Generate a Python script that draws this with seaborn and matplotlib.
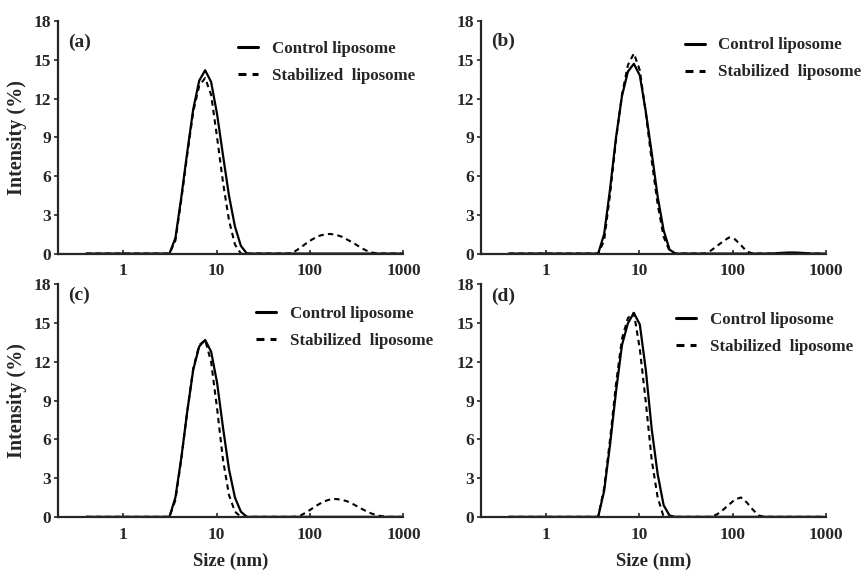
import numpy as np
import pandas as pd
import seaborn as sns
import matplotlib.pyplot as plt

# DLS size classes (nm)
size_nm = [0.4, 0.4632, 0.5365, 0.6213, 0.7195, 0.8332, 0.9649, 1.117, 1.294, 1.499,
           1.736, 2.010, 2.328, 2.696, 3.122, 3.615, 4.187, 4.849, 5.615, 6.503,
           7.531, 8.721, 10.10, 11.70, 13.54, 15.69, 18.17, 21.04, 24.36, 28.21,
           32.67, 37.84, 43.82, 50.75, 58.77, 68.06, 78.82, 91.28, 105.7, 122.4,
           141.8, 164.2, 190.1, 220.2, 255.0, 295.3, 342.0, 396.1, 458.7, 531.2,
           615.1, 712.4, 825.0, 955.4]

Z14 = [0] * 14  # empty classes below 3 nm

a_control = Z14 + [0, 1.2, 4.4, 7.9, 11.2, 13.4, 14.2, 13.3, 10.8, 7.6, 4.5, 2.1, 0.6, 0, 0,
                   0, 0, 0, 0, 0, 0, 0, 0, 0, 0, 0, 0, 0, 0, 0, 0, 0, 0, 0, 0, 0, 0, 0, 0, 0]
a_stable = Z14 + [0, 1.0, 4.2, 7.7, 11.0, 13.0, 13.6, 12.3, 9.0, 5.5, 2.6, 0.7, 0, 0, 0,
                  0, 0, 0, 0, 0, 0, 0.15, 0.45, 0.8, 1.1, 1.35, 1.48, 1.52, 1.45, 1.3,
                  1.05, 0.8, 0.5, 0.25, 0.08, 0, 0, 0, 0, 0]

b_control = Z14 + [0, 0, 1.5, 5.0, 9.0, 12.2, 14.1, 14.7, 13.8, 11.0, 7.8, 4.4, 1.8, 0.3, 0,
                   0, 0, 0, 0, 0, 0, 0, 0, 0, 0, 0, 0, 0, 0, 0, 0, 0.03, 0.06, 0.08, 0.08,
                   0.06, 0.03, 0, 0, 0]
b_stable = Z14 + [0, 0, 1.0, 4.6, 8.8, 12.3, 14.6, 15.5, 14.2, 10.9, 7.2, 3.8, 1.3, 0.2, 0,
                  0, 0, 0, 0, 0, 0.25, 0.6, 0.95, 1.25, 1.1, 0.65, 0.15, 0, 0, 0,
                  0, 0, 0, 0, 0, 0, 0, 0, 0, 0]

c_control = Z14 + [0, 1.5, 4.6, 8.2, 11.4, 13.2, 13.7, 12.8, 10.4, 6.9, 3.7, 1.5, 0.4, 0, 0,
                   0, 0, 0, 0, 0, 0, 0, 0, 0, 0, 0, 0, 0, 0, 0, 0, 0, 0, 0, 0, 0, 0, 0, 0, 0]
c_stable = Z14 + [0, 1.3, 4.5, 8.2, 11.5, 13.3, 13.7, 12.0, 8.4, 4.4, 1.7, 0.4, 0, 0, 0,
                  0, 0, 0, 0, 0, 0, 0, 0.1, 0.35, 0.65, 0.95, 1.2, 1.35, 1.38, 1.32,
                  1.18, 0.95, 0.7, 0.45, 0.25, 0.1, 0.03, 0, 0, 0]

d_control = Z14 + [0, 0, 2.0, 5.6, 9.7, 13.3, 15.0, 15.8, 14.9, 11.4, 6.8, 3.3, 0.9, 0.1, 0,
                   0, 0, 0, 0, 0, 0, 0, 0, 0, 0, 0, 0, 0, 0, 0, 0, 0, 0, 0, 0, 0, 0, 0, 0, 0]
d_stable = Z14 + [0, 0, 2.2, 6.0, 10.3, 13.8, 15.4, 15.8, 13.0, 8.9, 4.4, 1.5, 0, 0, 0,
                  0, 0, 0, 0, 0, 0, 0.2, 0.55, 0.95, 1.35, 1.5, 1.1, 0.55, 0.1, 0,
                  0, 0, 0, 0, 0, 0, 0, 0, 0, 0]

panels = ['(a)', '(b)', '(c)', '(d)']
controls = [a_control, b_control, c_control, d_control]
stables = [a_stable, b_stable, c_stable, d_stable]
labels = ['Control liposome', 'Stabilized  liposome']
x_ticks = [1, 10, 100, 1000]
y_ticks = [0, 3, 6, 9, 12, 15, 18]

sns.set_style('ticks')
plt.rcParams['font.family'] = ['Liberation Serif', 'DejaVu Serif']
plt.rcParams['font.weight'] = 'bold'

fig, axes = plt.subplots(2, 2, figsize=(8.66, 5.73), dpi=100)
fig.subplots_adjust(left=0.067, right=0.954, bottom=0.098, top=0.963,
                    wspace=0.224, hspace=0.133)

leg_pos = [(0.52, 0.915), (0.59, 0.93), (0.573, 0.906), (0.565, 0.88)]
tag_y = [0.91, 0.915, 0.955, 0.95]

for i, ax in enumerate(axes.flat):
    df = pd.DataFrame({'size': size_nm, 'control': controls[i], 'stable': stables[i]})
    sns.lineplot(data=df, x='size', y='control', ax=ax, color='black', lw=1.6,
                 label=labels[0], errorbar=None)
    sns.lineplot(data=df, x='size', y='stable', ax=ax, color='black', lw=1.5,
                 linestyle=(0, (2.6, 2.0)), label=labels[1], errorbar=None)

    ax.set_xscale('log')
    ax.set_xlim(0.2, 1000)
    ax.set_ylim(0, 18)
    ax.set_xticks(x_ticks)
    ax.set_xticklabels([str(t) for t in x_ticks])
    ax.xaxis.set_minor_locator(plt.NullLocator())
    ax.set_yticks(y_ticks)
    ax.tick_params(axis='x', direction='in', length=3, width=1.2, pad=7, labelsize=12.5)
    ax.tick_params(axis='y', direction='out', length=3, width=1.2, pad=2, labelsize=12.5)
    for lab in ax.get_xticklabels() + ax.get_yticklabels():
        lab.set_fontweight('bold')
    sns.despine(ax=ax)
    for s in ['left', 'bottom']:
        ax.spines[s].set_linewidth(1.6)

    ax.set_xlabel('Size (nm)' if i >= 2 else '', fontsize=13.5, fontweight='bold', labelpad=7)
    ax.set_ylabel('Intensity (%)' if i % 2 == 0 else '', fontsize=14.5, fontweight='bold', labelpad=5)

    ax.text(0.03, tag_y[i], panels[i], transform=ax.transAxes, fontsize=14,
            fontweight='bold', va='center', ha='left')

    leg = ax.legend(loc='upper left', bbox_to_anchor=leg_pos[i], frameon=False,
                    fontsize=12.2, handlelength=1.2, handletextpad=0.8,
                    labelspacing=0.65, borderpad=0, borderaxespad=0)
    for h in leg.legend_handles:
        h.set_linewidth(2.2)
    for t in leg.get_texts():
        t.set_fontweight('bold')

plt.savefig('out.png', dpi=100)
